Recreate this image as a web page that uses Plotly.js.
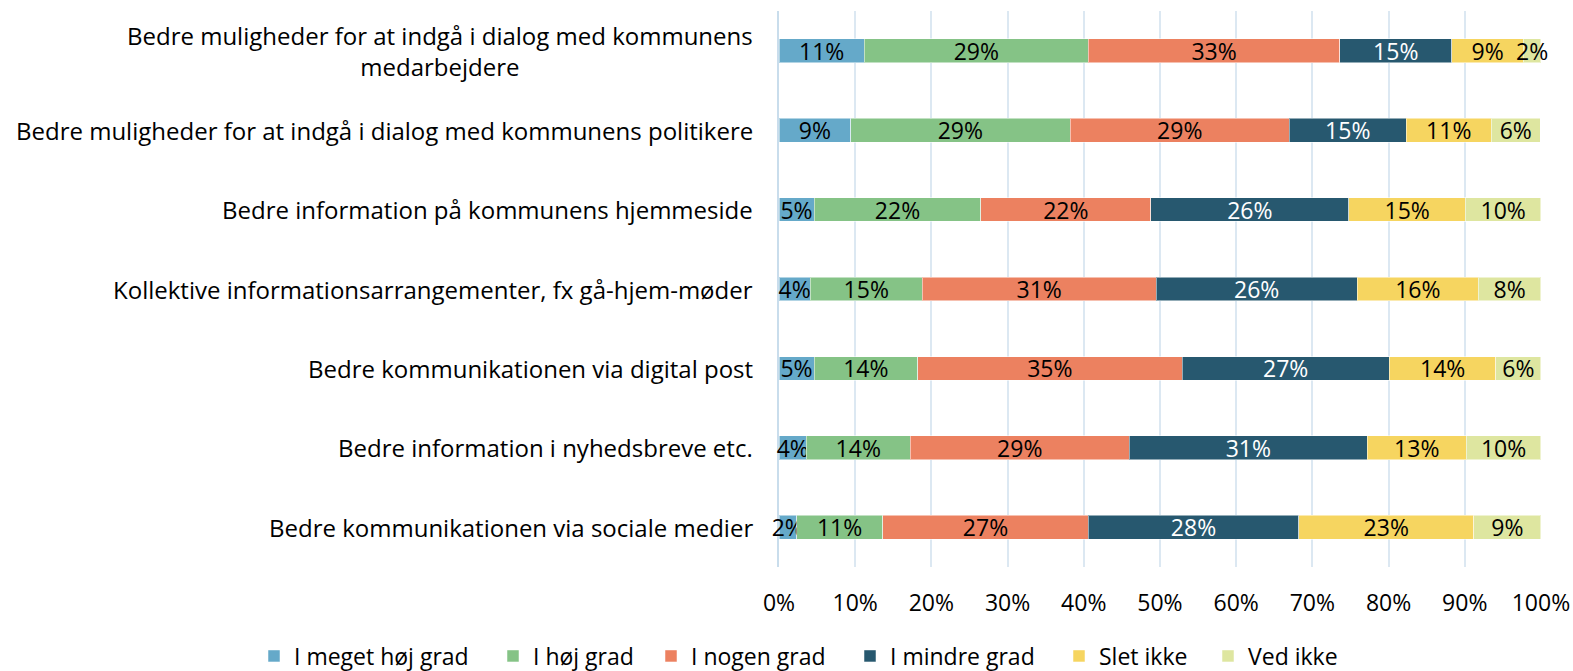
<!DOCTYPE html>
<html>
<head>
<meta charset="utf-8">
<script src="https://cdn.plot.ly/plotly-3.0.1.min.js"></script>
<style>html,body{margin:0;padding:0;background:#fff;}#chart{width:1573px;height:671px;}</style>
</head>
<body>
<div id="chart"></div>
<script>
const categories = [
  "Bedre muligheder for at indgå i dialog med kommunens<br>medarbejdere",
  "Bedre muligheder for at indgå i dialog med kommunens politikere",
  "Bedre information på kommunens hjemmeside",
  "Kollektive informationsarrangementer, fx gå-hjem-møder",
  "Bedre kommunikationen via digital post",
  "Bedre information i nyhedsbreve etc.",
  "Bedre kommunikationen via sociale medier"
];
const seriesNames = ["I meget høj grad", "I høj grad", "I nogen grad", "I mindre grad", "Slet ikke", "Ved ikke"];
const meget = [11.2, 9.4, 4.6, 4.1, 4.6, 3.6, 2.3];
const hoej   = [29.4, 28.8, 21.9, 14.7, 13.6, 13.6, 11.3];
const nogen  = [33.0, 28.8, 22.3, 30.7, 34.7, 28.8, 27.0];
const mindre = [14.7, 15.3, 26.0, 26.4, 27.2, 31.2, 27.6];
const slet   = [9.4, 11.2, 15.3, 15.9, 14.0, 13.0, 23.0];
const vedikke= [2.3, 6.4, 9.9, 8.2, 5.9, 9.8, 8.8];
const tickVals = [0,10,20,30,40,50,60,70,80,90,100];
const tickText = ["0%","10%","20%","30%","40%","50%","60%","70%","80%","90%","100%"];

const colors = ["#65A9C9", "#85C386", "#EC8160", "#27586F", "#F6D560", "#DEE6A0"];
const textColors = ["#000", "#000", "#000", "#fff", "#000", "#000"];
const allSeries = [meget, hoej, nogen, mindre, slet, vedikke];
const FONT = "Open Sans, sans-serif";
const W = 1573, H = 671;

// left edge of each legend entry's text (px)
const legendTextX = [292, 531, 689, 888, 1097, 1246];
const legendIds = ["legend", "legend2", "legend3", "legend4", "legend5", "legend6"];

const traces = allSeries.map((vals, i) => ({
  type: "bar",
  orientation: "h",
  name: seriesNames[i],
  legend: legendIds[i],
  x: vals,
  y: categories,
  marker: {color: colors[i], line: {color: "rgba(255,255,255,0.5)", width: 1}},
  text: vals.map(v => Math.round(v) + "%"),
  textposition: "inside",
  insidetextanchor: "middle",
  textangle: 0,
  constraintext: "none",
  textfont: {family: FONT, size: 23, color: textColors[i]},
  cliponaxis: false,
  hoverinfo: "x+name"
}));

const annotations = categories.map(c => ({
  xref: "paper", yref: "y", x: 0, y: c,
  xanchor: "right", yanchor: "middle", xshift: -24,
  align: "center", showarrow: false,
  text: c,
  font: {family: FONT, size: 24, color: "#000"}
}));

const layout = {
  width: W, height: H,
  margin: {l: 779, r: 32, t: 11, b: 104},
  barmode: "stack",
  bargap: 0.7,
  paper_bgcolor: "#fff", plot_bgcolor: "#fff",
  font: {family: FONT, size: 23, color: "#000"},
  xaxis: {
    range: [0, 100.01], tickvals: tickVals, ticktext: tickText,
    showgrid: true, gridcolor: "#DCE8F2", gridwidth: 2,
    zeroline: false, showline: false, ticks: "",
    ticklabelstandoff: 20,
    tickfont: {family: FONT, size: 23, color: "#000"},
    layer: "below traces",
    fixedrange: true
  },
  yaxis: {
    type: "category", autorange: "reversed",
    showticklabels: false, showgrid: false, zeroline: false,
    showline: true, linecolor: "#C9DDEC", linewidth: 2,
    ticks: "", layer: "below traces", fixedrange: true
  },
  showlegend: true,
  annotations: annotations
};

legendIds.forEach((id, i) => {
  layout[id] = {
    orientation: "h", xref: "container", yref: "container",
    x: (legendTextX[i] - 38) / W, xanchor: "left",
    y: (H - 656) / H, yanchor: "middle",
    font: {family: FONT, size: 23, color: "#000"},
    itemwidth: 30, bgcolor: "rgba(0,0,0,0)"
  };
});

Plotly.newPlot("chart", traces, layout, {displayModeBar: false, staticPlot: true});
</script>
</body>
</html>
